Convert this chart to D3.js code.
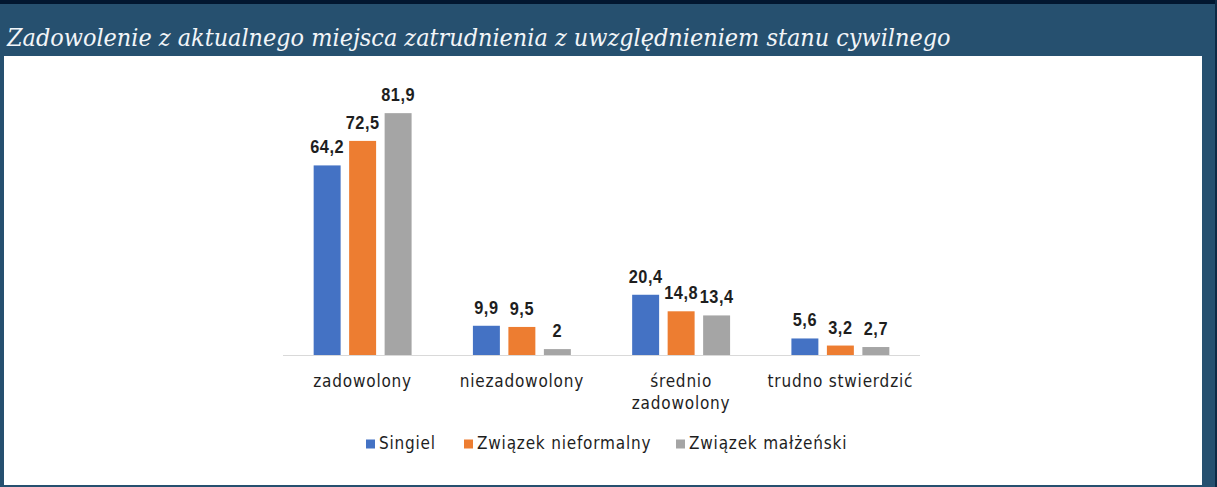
<!DOCTYPE html>
<html>
<head>
<meta charset="utf-8">
<script src="https://cdn.jsdelivr.net/npm/d3@7/dist/d3.min.js"></script>
<style>
  html, body { margin: 0; padding: 0; background: #26506f; }
  svg { display: block; }
</style>
</head>
<body>
<svg id="chart" width="1217" height="487"></svg>
<script>
const title = "Zadowolenie z aktualnego miejsca zatrudnienia z uwzględnieniem stanu cywilnego";
const categories = [["zadowolony"], ["niezadowolony"], ["średnio", "zadowolony"], ["trudno stwierdzić"]];
const seriesNames = ["Singiel", "Związek nieformalny", "Związek małżeński"];
const singiel = [64.2, 9.9, 20.4, 5.6];
const nieformalny = [72.5, 9.5, 14.8, 3.2];
const malzenski = [81.9, 2, 13.4, 2.7];
const colors = ["#4472C4", "#ED7D31", "#A5A5A5"];

const series = [singiel, nieformalny, malzenski];
const svg = d3.select("#chart");

// frame
svg.append("rect").attr("x", 0).attr("y", 0).attr("width", 1217).attr("height", 487).attr("fill", "#26506f");
svg.append("rect").attr("x", 0).attr("y", 0).attr("width", 1217).attr("height", 4).attr("fill", "#021730");
svg.append("rect").attr("x", 1215).attr("y", 0).attr("width", 2).attr("height", 487).attr("fill", "#0d2a45");
svg.append("rect").attr("x", 4).attr("y", 56).attr("width", 1198).attr("height", 429).attr("fill", "#ffffff");

// title
const t = svg.append("text")
  .attr("x", 7).attr("y", 46)
  .attr("fill", "#f2f5f8")
  .style("font-family", "'DejaVu Serif', serif")
  .style("font-style", "italic")
  .style("font-stretch", "condensed")
  .style("font-size", "24px")
  .text(title);
const tw = t.node().getComputedTextLength();
t.style("font-size", (24 * 944 / tw) + "px");

const baseY = 355;
const keys = categories.map((c, i) => i);
const x0 = d3.scaleBand().domain(keys).range([283, 920]).paddingInner(0.385).paddingOuter(0.1925);
const x1 = d3.scaleBand().domain([0, 1, 2]).range([0, x0.bandwidth()]).paddingInner(0.24);
const y = d3.scaleLinear().domain([0, 90]).range([baseY, baseY - 90 * 2.953]);

// axis line
svg.append("line").attr("x1", 283).attr("x2", 920).attr("y1", baseY + 0.5).attr("y2", baseY + 0.5)
  .attr("stroke", "#D9D9D9").attr("stroke-width", 1);

const g = svg.append("g");
keys.forEach(ci => {
  series.forEach((s, si) => {
    const v = s[ci];
    const bx = x0(ci) + x1(si);
    g.append("rect")
      .attr("x", bx).attr("y", y(v))
      .attr("width", x1.bandwidth()).attr("height", y(0) - y(v))
      .attr("fill", colors[si]);
    g.append("g")
      .attr("transform", `translate(${bx + x1.bandwidth() / 2},${y(v) - 12}) scale(0.86,1)`)
      .append("text")
      .attr("x", 0).attr("y", 0)
      .attr("text-anchor", "middle")
      .attr("fill", "#1e1e1e")
      .style("font-family", "'Liberation Sans', Arial, sans-serif")
      .style("font-weight", "bold")
      .style("font-size", "19px")
      .style("letter-spacing", "0.6px")
      .text(String(v).replace(".", ","));
  });
  const lines = categories[ci];
  lines.forEach((ln, li) => {
    svg.append("text")
      .attr("x", x0(ci) + x0.bandwidth() / 2)
      .attr("y", 387 + li * 21.7)
      .attr("text-anchor", "middle")
      .attr("fill", "#1e1e1e")
      .style("font-family", "'DejaVu Sans Condensed', 'DejaVu Sans', sans-serif")
      .style("font-size", "17px")
      .style("letter-spacing", "0.8px")
      .text(ln);
  });
});

// legend
const legendX = [366, 464, 676];
seriesNames.forEach((n, i) => {
  svg.append("rect").attr("x", legendX[i]).attr("y", 439.5).attr("width", 9).attr("height", 9).attr("fill", colors[i]);
  svg.append("text")
    .attr("x", legendX[i] + 13).attr("y", 448.5)
    .attr("fill", "#1e1e1e")
    .style("font-family", "'DejaVu Sans Condensed', 'DejaVu Sans', sans-serif")
    .style("font-size", "17px")
    .style("letter-spacing", "0.8px")
    .text(n);
});
</script>
</body>
</html>
